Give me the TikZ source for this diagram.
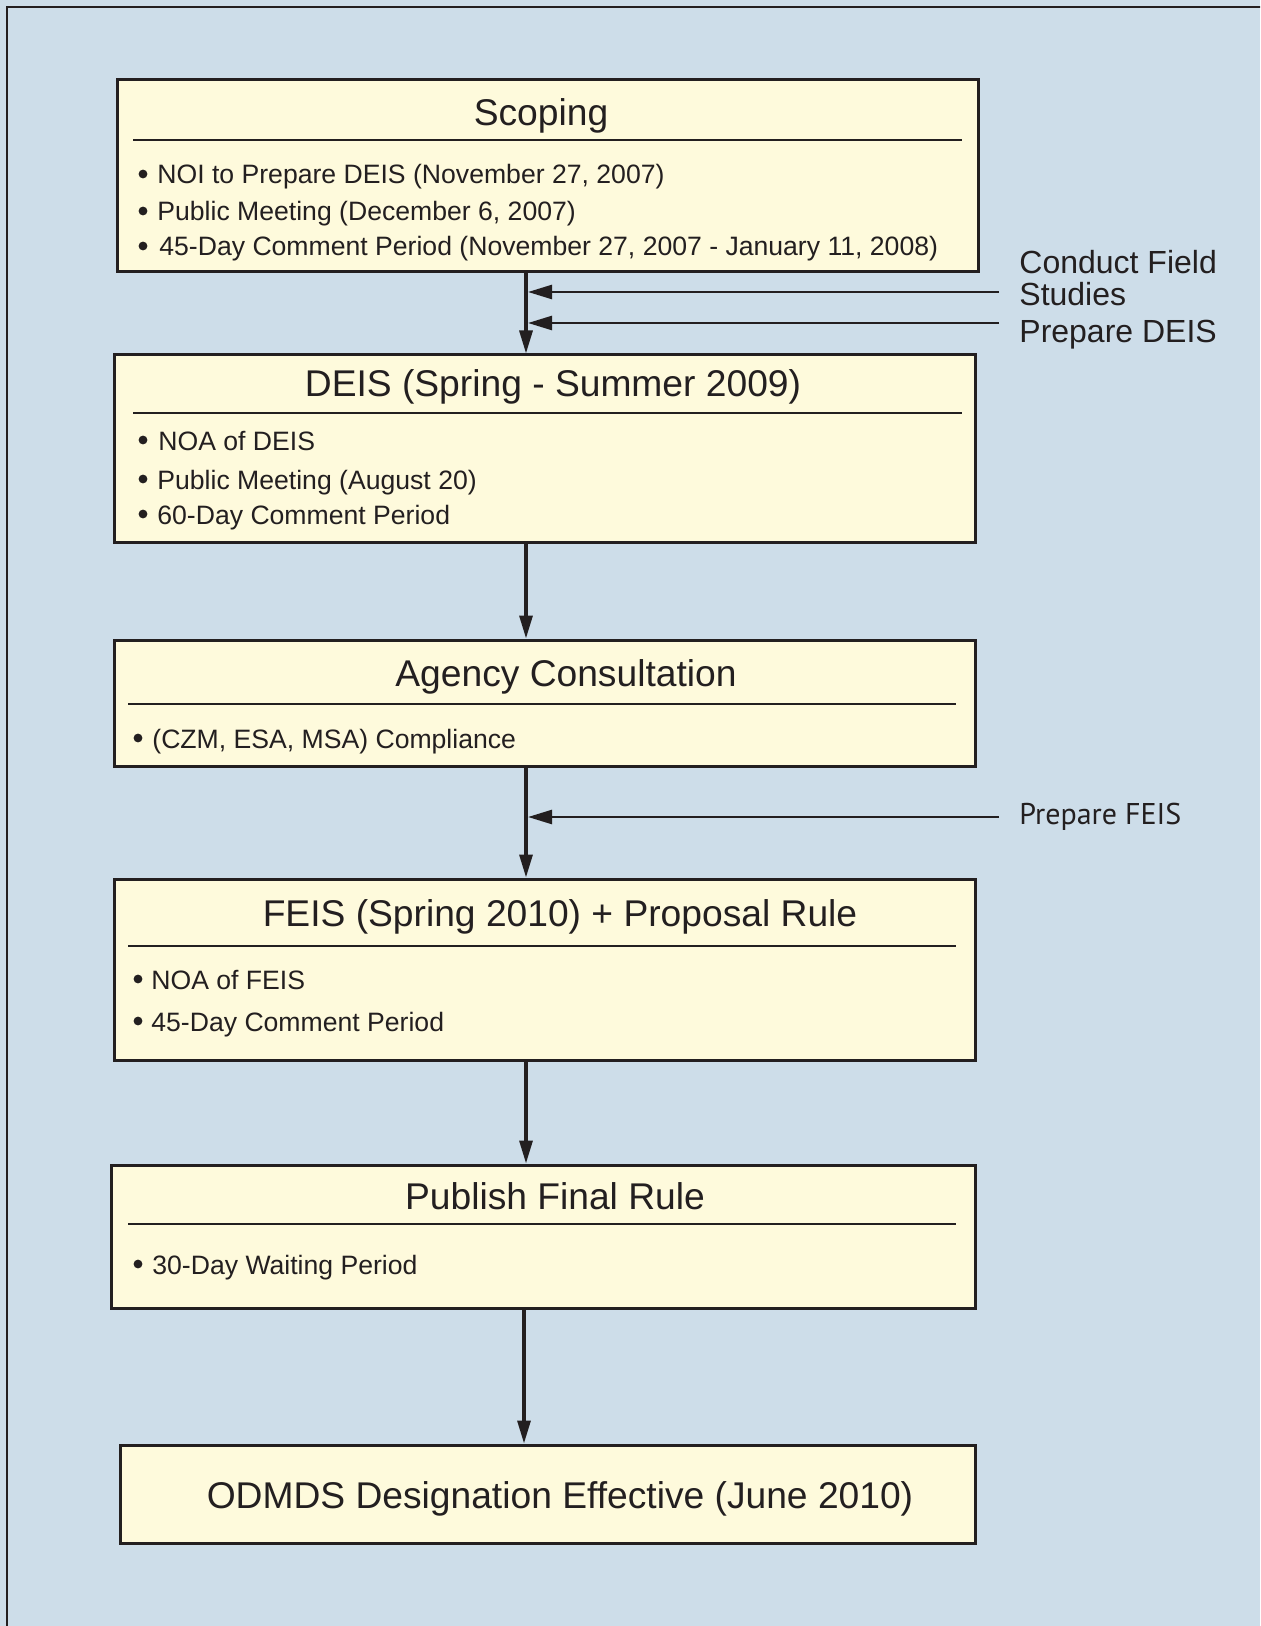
\documentclass[tikz,border=0pt]{standalone}
\usepackage{fontspec}
\setmainfont{Liberation Sans}
\newfontfamily\humanist{PT Sans}
\usetikzlibrary{arrows.meta,fit}
\definecolor{bgblue}{RGB}{205,221,233}
\definecolor{boxyellow}{RGB}{254,250,220}
\definecolor{ink}{RGB}{35,31,32}
\begin{document}
\begin{tikzpicture}[x=0.5pt,y=-0.5pt,
  stagebox/.style={draw=ink, line width=1.5pt, fill=boxyellow, inner sep=0pt},
  title/.style={anchor=base, font=\fontsize{18.6}{22}\selectfont, text=ink, inner sep=0pt},
  item/.style={anchor=base west, font=\fontsize{13.3}{16}\selectfont, text=ink, inner sep=0pt},
  dot/.style={circle, fill=ink, inner sep=0pt, minimum size=4.4pt},
  rule/.style={draw=ink, line width=1pt},
  flow/.style={draw=ink, line width=1.6pt, -{Triangle[length=11.5pt,width=6.5pt]}},
  side/.style={draw=ink, line width=1.25pt, -{Triangle[length=12pt,width=7pt]}},
  sidelabel/.style={anchor=base west, font=\fontsize{16}{19}\selectfont, text=ink, inner sep=0pt},
  sidelabelb/.style={anchor=base west, font=\humanist\fontsize{15}{18}\selectfont, text=ink, inner sep=0pt}
]
\useasboundingbox (0,0) rectangle (1260,1626);
\clip (0,0) rectangle (1260,1626);
\fill[bgblue] (0,0) rectangle (1260,1626);
\draw[ink, line width=1.4pt] (7,1650) -- (7,7) -- (1280,7);

% stage boxes
\node[stagebox, fit={(117,80) (978,272)}] (s1) {};
\node[stagebox, fit={(114,355) (975,542)}] (s2) {};
\node[stagebox, fit={(114,640) (975,766)}] (s3) {};
\node[stagebox, fit={(114,879) (975,1060)}] (s4) {};
\node[stagebox, fit={(111,1165) (975,1308)}] (s5) {};
\node[stagebox, fit={(120,1445) (975,1543)}] (s6) {};

% titles and rules
\node[title] (t1) at (541,126) {Scoping};
\draw[rule] (133,140) -- (962,140);
\node[title] (t2) at (553,396) {DEIS (Spring - Summer 2009)};
\draw[rule] (133,413) -- (962,413);
\node[title] (t3) at (566,686) {Agency Consultation};
\draw[rule] (128,704) -- (956,704);
\node[title] (t4) at (560,926) {FEIS (Spring 2010) + Proposal Rule};
\draw[rule] (128,946) -- (956,946);
\node[title] (t5) at (555,1209) {Publish Final Rule};
\draw[rule] (128,1224) -- (956,1224);
\node[title] (t6) at (560,1508) {ODMDS Designation Effective (June 2010)};

% items
\node[dot] (b11) at (143,174) {};
\node[item] (i11) at (157,184) {NOI to Prepare DEIS (November 27, 2007)};
\node[dot] (b12) at (143,211) {};
\node[item] (i12) at (157,221) {Public Meeting (December 6, 2007)};
\node[dot] (b13) at (143,246) {};
\node[item] (i13) at (159,256) {45-Day Comment Period (November 27, 2007 - January 11, 2008)};

\node[dot] (b21) at (143,440) {};
\node[item] (i21) at (158,450) {NOA of DEIS};
\node[dot] (b22) at (143,479) {};
\node[item] (i22) at (157,489) {Public Meeting (August 20)};
\node[dot] (b23) at (143,514) {};
\node[item] (i23) at (157,524) {60-Day Comment Period};

\node[dot] (b31) at (138,738) {};
\node[item] (i31) at (152,748) {(CZM, ESA, MSA) Compliance};

\node[dot] (b41) at (138,979) {};
\node[item] (i41) at (151,989) {NOA of FEIS};
\node[dot] (b42) at (138,1021) {};
\node[item] (i42) at (151,1031) {45-Day Comment Period};

\node[dot] (b51) at (138,1264) {};
\node[item] (i51) at (152,1274) {30-Day Waiting Period};

% flow arrows
\coordinate (ax) at (526,0);
\coordinate (axs) at (528,0);
\draw[flow] (s1.south -| ax) -- (s2.north -| ax);
\draw[flow] (s2.south -| ax) -- (s3.north -| ax);
\draw[flow] (s3.south -| ax) -- (s4.north -| ax);
\draw[flow] (s4.south -| ax) -- (s5.north -| ax);
\coordinate (ax6) at (524,0);
\draw[flow] (s5.south -| ax6) -- (s6.north -| ax6);

% side inputs
\node[sidelabel] (l1) at (1019,274) {Conduct Field};
\node[sidelabel] (l1b) at (1019,306) {Studies};
\node[sidelabel] (l2) at (1019,343) {Prepare DEIS};
\node[sidelabelb] (l3) at (1019,824) {Prepare FEIS};
\coordinate (c1) at (999,292);
\coordinate (c2) at (999,323);
\coordinate (c3) at (999,817);
\draw[side] (c1) -- (c1 -| axs);
\draw[side] (c2) -- (c2 -| axs);
\draw[side] (c3) -- (c3 -| axs);
\end{tikzpicture}
\end{document}
